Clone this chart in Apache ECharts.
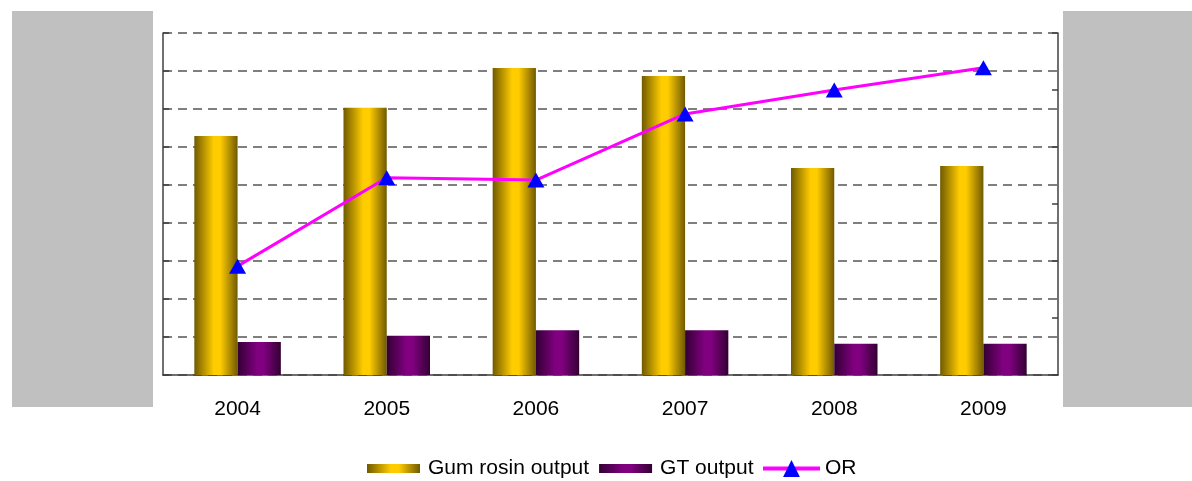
<!DOCTYPE html>
<html>
<head>
<meta charset="utf-8">
<script src="https://cdn.jsdelivr.net/npm/echarts@6/dist/echarts.min.js"></script>
<style>
  html, body { margin: 0; padding: 0; background: #fff; }
  #chart { width: 1192px; height: 481px; }
</style>
</head>
<body>
<div id="chart"></div>
<script>
  // values (left axis hidden, arbitrary units)
  var years = ['2004', '2005', '2006', '2007', '2008', '2009'];
  var gumRosin = [62.9, 70.3, 80.8, 78.7, 54.5, 55.0];
  var gtOutput = [8.7, 10.3, 11.8, 11.8, 8.2, 8.2];
  var orValues = [19.1, 34.6, 34.2, 45.8, 50.0, 53.9];

  var chart = echarts.init(document.getElementById('chart'));

  function hGrad(edge, mid) {
    return new echarts.graphic.LinearGradient(0, 0, 1, 0, [
      { offset: 0, color: edge },
      { offset: 0.45, color: mid },
      { offset: 0.6, color: mid },
      { offset: 1, color: edge }
    ]);
  }

  var font = 'Liberation Sans, Arial, sans-serif';

  chart.setOption({
    animation: false,
    backgroundColor: '#fff',
    textStyle: { fontFamily: font },
    grid: { left: 163, right: 134, top: 33, bottom: 106 },
    legend: [{
      top: 458,
      left: 367,
      padding: 0,
      itemWidth: 53,
      itemHeight: 9,
      itemGap: 10,
      textStyle: { fontSize: 21, color: '#000', fontFamily: font, padding: [0, 0, 0, 3] },
      data: [
        { name: 'Gum rosin output', icon: 'rect' },
        { name: 'GT output', icon: 'rect' }
      ]
    }, {
      top: 458,
      left: 761,
      padding: 0,
      itemWidth: 57,
      itemHeight: 21,
      textStyle: { fontSize: 21, color: '#000', fontFamily: font },
      lineStyle: { width: 4 },
      data: ['OR']
    }],
    xAxis: {
      type: 'category',
      data: years,
      boundaryGap: true,
      axisLine: { lineStyle: { color: '#404040', width: 1.5 } },
      axisTick: { inside: true, length: 5, lineStyle: { color: '#404040' } },
      axisLabel: { fontSize: 21, color: '#000', margin: 24, fontFamily: font }
    },
    yAxis: [{
      type: 'value',
      min: 0, max: 90, interval: 10,
      axisLine: { show: true, lineStyle: { color: '#404040', width: 1.5 } },
      axisTick: { show: true, inside: true, length: 6, lineStyle: { color: '#404040', width: 1.5 } },
      axisLabel: { show: false },
      splitLine: { lineStyle: { color: '#7f7f7f', width: 2, type: [9, 6] } }
    }, {
      type: 'value',
      position: 'right',
      min: 0, max: 60, interval: 10,
      axisLine: { show: true, lineStyle: { color: '#404040', width: 1.5 } },
      axisTick: { show: true, inside: true, length: 6, lineStyle: { color: '#404040', width: 1.5 } },
      axisLabel: { show: false },
      splitLine: { show: false }
    }],
    series: [{
      name: 'Gum rosin output',
      type: 'bar',
      data: gumRosin,
      barGap: '0%',
      barCategoryGap: '42%',
      itemStyle: { color: hGrad('#705a00', '#ffcc00') }
    }, {
      name: 'GT output',
      type: 'bar',
      data: gtOutput,
      itemStyle: { color: hGrad('#330033', '#800080') }
    }, {
      name: 'OR',
      type: 'line',
      yAxisIndex: 1,
      data: orValues,
      symbol: 'triangle',
      symbolSize: [17, 15],
      lineStyle: { color: '#ff00ff', width: 3 },
      itemStyle: { color: '#0000ff' },
      z: 5
    }],
    graphic: [{
      type: 'rect',
      shape: { x: 12, y: 11, width: 141, height: 396 },
      style: { fill: '#c0c0c0' }
    }, {
      type: 'rect',
      shape: { x: 1063, y: 11, width: 129, height: 396 },
      style: { fill: '#c0c0c0' }
    }]
  });
</script>
</body>
</html>
